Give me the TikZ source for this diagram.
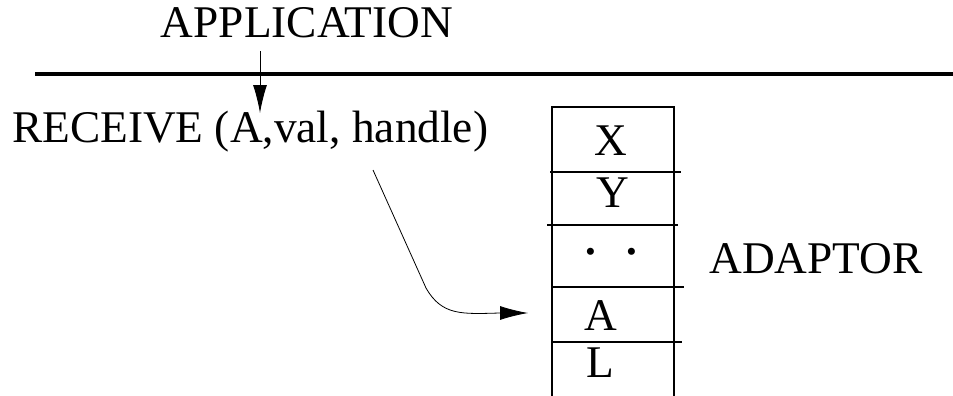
\documentclass[tikz,border=0pt]{standalone}
\usepackage{fontspec}
\setmainfont{Liberation Serif}
\usetikzlibrary{arrows.meta}

\tikzset{
	lbl/.style={inner sep=0pt, font=\fontsize{34}{40}\selectfont},
	cell/.style={inner sep=0pt, anchor=base, font=\fontsize{34}{40}\selectfont},
	sep/.style={line width=1.5pt},
	tip/.style={-{Latex[length=21pt,width=10.5pt]}, line width=0.7pt}
}

\begin{document}
\begin{tikzpicture}[x=0.75pt, y=-0.75pt]
			%%%%% START %%%%%
			\useasboundingbox (0, 0) rectangle (953, 396);
			
			% layer boundary
			\draw[line width=3pt] (35, 74) -- (953, 74);
			
			\node[lbl, anchor=base] (app) at (307, 37) {APPLICATION};
			\node[lbl, anchor=base west] (recv) at (12, 142) {RECEIVE (A,val, handle)};
			\coordinate (appin) at (260, 113);
			\draw[tip, shorten <=10pt] (app.south -| appin) -- (appin);
			
			% adaptor table
			\draw[sep] (552, 396) -- (552, 107) -- (674, 107) -- (674, 396);
			\draw[sep] (550, 172) -- (681, 172);
			\draw[sep] (547, 225) -- (678, 225);
			\draw[sep] (552, 287) -- (684, 287);
			\draw[sep] (552, 342) -- (682, 342);
			
			\node[cell] (cx) at (611, 155) {X};
			\node[cell] (cy) at (613, 207) {Y};
			\node[cell, font=\fontsize{22}{22}\selectfont] (cd) at (611, 261) {\textbullet\hspace{23pt}\textbullet};
			\node[cell] (ca) at (601, 330) {A};
			\node[cell] (cl) at (600, 377) {L};
			
			\node[lbl, anchor=base] (adaptor) at (816, 273) {ADAPTOR};
			
			% handle points into entry A
			\coordinate (hstart) at (373, 170);
			\coordinate (hend) at (528, 313);
			\draw[tip, line width=0.6pt] (hstart) -- (426, 288) .. controls (442, 316) and (462, 314) .. (500, 313) -- (hend);
			
			%%%%% END %%%%%
		\end{tikzpicture}
\end{document}
